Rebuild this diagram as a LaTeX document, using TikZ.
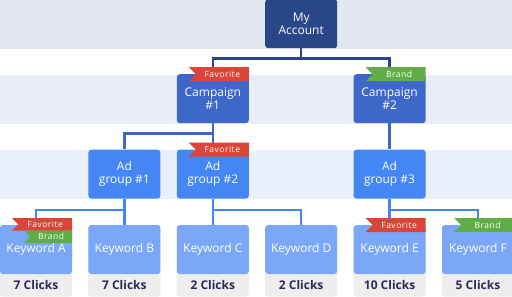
\documentclass[tikz,border=0pt]{standalone}
\usepackage{fontspec}
\setmainfont{Open Sans}
\usepackage{tikz}
\usetikzlibrary{positioning,shapes.symbols,backgrounds,calc}
\definecolor{coraccount}{RGB}{40,70,136}
\definecolor{corcampaign}{RGB}{61,103,200}
\definecolor{coradgroup}{RGB}{68,134,243}
\definecolor{corkeyword}{RGB}{122,167,247}
\definecolor{corfavorite}{RGB}{219,68,55}
\definecolor{corbrand}{RGB}{96,173,72}
\definecolor{corclicks}{RGB}{238,238,238}
\definecolor{corclicktext}{RGB}{43,43,90}
\definecolor{corfaixaA}{RGB}{227,231,242}
\definecolor{corfaixaB}{RGB}{233,237,248}
\definecolor{corfaixaC}{RGB}{234,241,253}

\begin{document}
\begin{tikzpicture}[
  x=1pt, y=-1pt,
  node distance=26pt and 16pt,
  tile/.style={rectangle, rounded corners=3pt, minimum width=72pt,
               minimum height=49pt, inner sep=0pt, align=center, text=white,
               font=\fontsize{12}{12.8}\selectfont},
  account/.style={tile, fill=coraccount},
  campaign/.style={tile, fill=corcampaign},
  adgroup/.style={tile, fill=coradgroup},
  keyword/.style={tile, fill=corkeyword},
  clicks/.style={minimum width=72pt, minimum height=22pt, inner sep=0pt,
                 text=corclicktext, font=\fontsize{12}{12.8}\selectfont\bfseries},
  ribbon/.style={shape=signal, signal from=west, signal to=nowhere,
                 minimum height=14pt, minimum width=60pt, inner sep=0pt,
                 text=white, anchor=north east,
                 font=\fontsize{8.5}{8.5}\selectfont\addfontfeature{LetterSpace=6}},
  favorite/.style={ribbon, fill=corfavorite},
  brand/.style={ribbon, fill=corbrand},
  link/.style={line width=2.4pt}
]
  \useasboundingbox (0,0) rectangle (512,297);

  % tree levels
  \node[keyword] (kwA) at (36,249.5) {Keyword A};
  \node[keyword, right=of kwA] (kwB) {Keyword B};
  \node[keyword, right=of kwB] (kwC) {Keyword C};
  \node[keyword, right=of kwC] (kwD) {Keyword D};
  \node[keyword, right=of kwD] (kwE) {Keyword E};
  \node[keyword, right=of kwE] (kwF) {Keyword F};

  \node[clicks, below=0pt of kwA] (clA) {7 Clicks};
  \node[clicks, below=0pt of kwB] (clB) {7 Clicks};
  \node[clicks, below=0pt of kwC] (clC) {2 Clicks};
  \node[clicks, below=0pt of kwD] (clD) {2 Clicks};
  \node[clicks, below=0pt of kwE] (clE) {10 Clicks};
  \node[clicks, below=0pt of kwF] (clF) {5 Clicks};

  \node[adgroup, above=of kwB] (ag1) {Ad\\group \#1};
  \node[adgroup, above=of kwC] (ag2) {Ad\\group \#2};
  \node[adgroup, above=of kwE] (ag3) {Ad\\group \#3};

  \node[campaign, above=of ag2] (cp1) {Campaign\\\#1};
  \node[campaign, above=of ag3] (cp2) {Campaign\\\#2};

  \node[account, yshift=75pt] (acct) at ($(cp1)!.5!(cp2)$) {My\\Account};

  % bands and click boxes behind
  \begin{scope}[on background layer]
    \fill[corfaixaA] (0,0) rectangle (512,49);
    \fill[corfaixaB] (0,75) rectangle (512,124);
    \fill[corfaixaC] (0,150) rectangle (512,199);
    \fill[corclicks, rounded corners=3pt] (kwA.north west) rectangle (clA.south east);
    \fill[corclicks, rounded corners=3pt] (kwB.north west) rectangle (clB.south east);
    \fill[corclicks, rounded corners=3pt] (kwC.north west) rectangle (clC.south east);
    \fill[corclicks, rounded corners=3pt] (kwD.north west) rectangle (clD.south east);
    \fill[corclicks, rounded corners=3pt] (kwE.north west) rectangle (clE.south east);
    \fill[corclicks, rounded corners=3pt] (kwF.north west) rectangle (clF.south east);
  \end{scope}

  % connectors
  \draw[link, coraccount] (acct.south) -- ++(0,10) coordinate (jacct);
  \draw[link, coraccount] (jacct) -| (cp1.north);
  \draw[link, coraccount] (jacct) -| (cp2.north);

  \draw[link, corcampaign] (cp1.south) -- (ag2.north);
  \draw[link, corcampaign] (cp1.south) ++(0,10) coordinate (jcp1) -| (ag1.north);
  \draw[link, corcampaign] (cp2.south) -- (ag3.north);

  \draw[link, coradgroup] (ag1.south) -- (kwB.north);
  \draw[link, coradgroup] (ag1.south) ++(0,11) coordinate (jag1) -| (kwA.north);
  \draw[link, coradgroup] (ag2.south) -- (kwC.north);
  \draw[link, coradgroup] (ag2.south) ++(0,11) coordinate (jag2) -| (kwD.north);
  \draw[link, coradgroup] (ag3.south) -- (kwE.north);
  \draw[link, coradgroup] (ag3.south) ++(0,11) coordinate (jag3) -| (kwF.north);

  % ribbons
  \node[favorite] (fcp1) at ([yshift=7pt]cp1.north east) {Favorite};
  \node[brand] (bcp2) at ([yshift=7pt]cp2.north east) {Brand};
  \node[favorite] (fag2) at ([yshift=7pt]ag2.north east) {Favorite};
  \node[favorite, minimum height=12.5pt] (fkwA) at ([yshift=7pt]kwA.north east) {Favorite};
  \node[brand, minimum height=12.5pt, minimum width=48pt] (bkwA) at (fkwA.south east) {Brand};
  \node[favorite] (fkwE) at ([yshift=7pt]kwE.north east) {Favorite};
  \node[brand] (bkwF) at ([yshift=7pt]kwF.north east) {Brand};
\end{tikzpicture}
\end{document}
